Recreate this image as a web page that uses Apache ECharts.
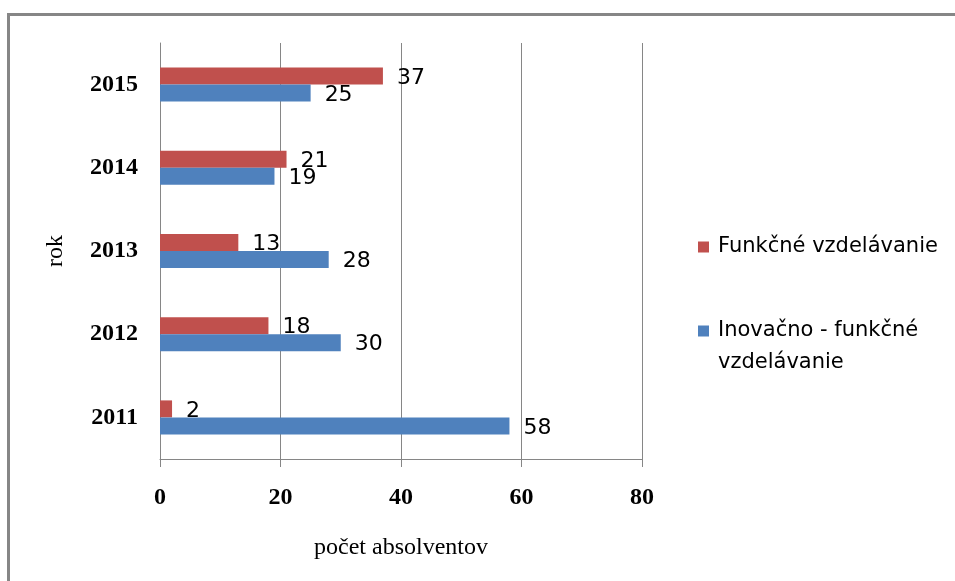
<!DOCTYPE html>
<html>
<head>
<meta charset="utf-8">
<script src="https://cdn.jsdelivr.net/npm/echarts@6/dist/echarts.min.js"></script>
<style>
html,body{margin:0;padding:0;background:#fff;}
#c{width:955px;height:581px;}
</style>
</head>
<body>
<div id="c"></div>
<script>
const years = ['2011', '2012', '2013', '2014', '2015'];
const funkcne = [2, 18, 13, 21, 37];
const inovacno = [58, 30, 28, 19, 25];
const seriesNames = ['Funkčné vzdelávanie', 'Inovačno - funkčné vzdelávanie'];
const legendLines = {
  'Funkčné vzdelávanie': ['Funkčné vzdelávanie'],
  'Inovačno - funkčné vzdelávanie': ['Inovačno - funkčné', 'vzdelávanie']
};
const xTicks = [0, 20, 40, 60, 80];

const chart = echarts.init(document.getElementById('c'));
const labelStyle = {
  show: true, position: 'right', distance: 14, offset: [0, 2],
  fontFamily: 'DejaVu Sans', fontSize: 22, color: '#000'
};
chart.setOption({
  animation: false,
  backgroundColor: '#fff',
  graphic: [
    { type: 'line', shape: { x1: 8, y1: 14.5, x2: 955, y2: 14.5 }, style: { stroke: '#868686', lineWidth: 3 } },
    { type: 'line', shape: { x1: 8.5, y1: 13, x2: 8.5, y2: 581 }, style: { stroke: '#868686', lineWidth: 3 } }
  ],
  grid: { left: 160, top: 43, width: 482, height: 416, containLabel: false },
  legend: {
    orient: 'vertical', left: 698, top: 231, padding: 0,
    itemWidth: 11, itemHeight: 11, itemGap: 20,
    icon: 'rect',
    data: seriesNames,
    formatter: function (name) {
      const lines = legendLines[name];
      if (lines.length === 1) return '{s|}{t|' + lines[0] + '}';
      // blank first line keeps the first text line level with the icon
      return '{s|}\n' + lines.map(function (l) { return '{s|}{t|' + l + '}'; }).join('\n');
    },
    textStyle: {
      fontFamily: 'DejaVu Sans', fontSize: 21, color: '#000', lineHeight: 32,
      rich: {
        s: { width: 4, lineHeight: 32 },
        t: { fontFamily: 'DejaVu Sans', fontSize: 21, color: '#000', lineHeight: 32 }
      }
    }
  },
  xAxis: {
    type: 'value', min: xTicks[0], max: xTicks[xTicks.length - 1], interval: 20,
    name: 'počet absolventov', nameLocation: 'middle', nameGap: 77,
    nameTextStyle: { fontFamily: 'Liberation Serif', fontSize: 24, color: '#000' },
    axisLine: { show: true, lineStyle: { color: '#868686', width: 1 } },
    axisTick: { show: true, length: 8, inside: false, lineStyle: { color: '#868686' } },
    axisLabel: { margin: 27, fontFamily: 'Liberation Serif', fontWeight: 'bold', fontSize: 24, color: '#000' },
    splitLine: { show: true, lineStyle: { color: '#868686', width: 1 } }
  },
  yAxis: {
    type: 'category', data: years,
    name: 'rok', nameLocation: 'middle', nameGap: 92, nameRotate: 90,
    nameTextStyle: { fontFamily: 'Liberation Serif', fontSize: 24, color: '#000' },
    axisLine: { show: true, lineStyle: { color: '#868686', width: 1 } },
    axisTick: { show: false },
    axisLabel: { margin: 22, fontFamily: 'Liberation Serif', fontWeight: 'bold', fontSize: 24, color: '#000' },
    splitLine: { show: false }
  },
  series: [
    { name: seriesNames[0], type: 'bar', data: funkcne, barWidth: 17, barGap: '0%',
      itemStyle: { color: '#C0504D' }, label: labelStyle },
    { name: seriesNames[1], type: 'bar', data: inovacno, barWidth: 17, barGap: '0%',
      itemStyle: { color: '#4F81BD' }, label: labelStyle }
  ]
});
</script>
</body>
</html>
